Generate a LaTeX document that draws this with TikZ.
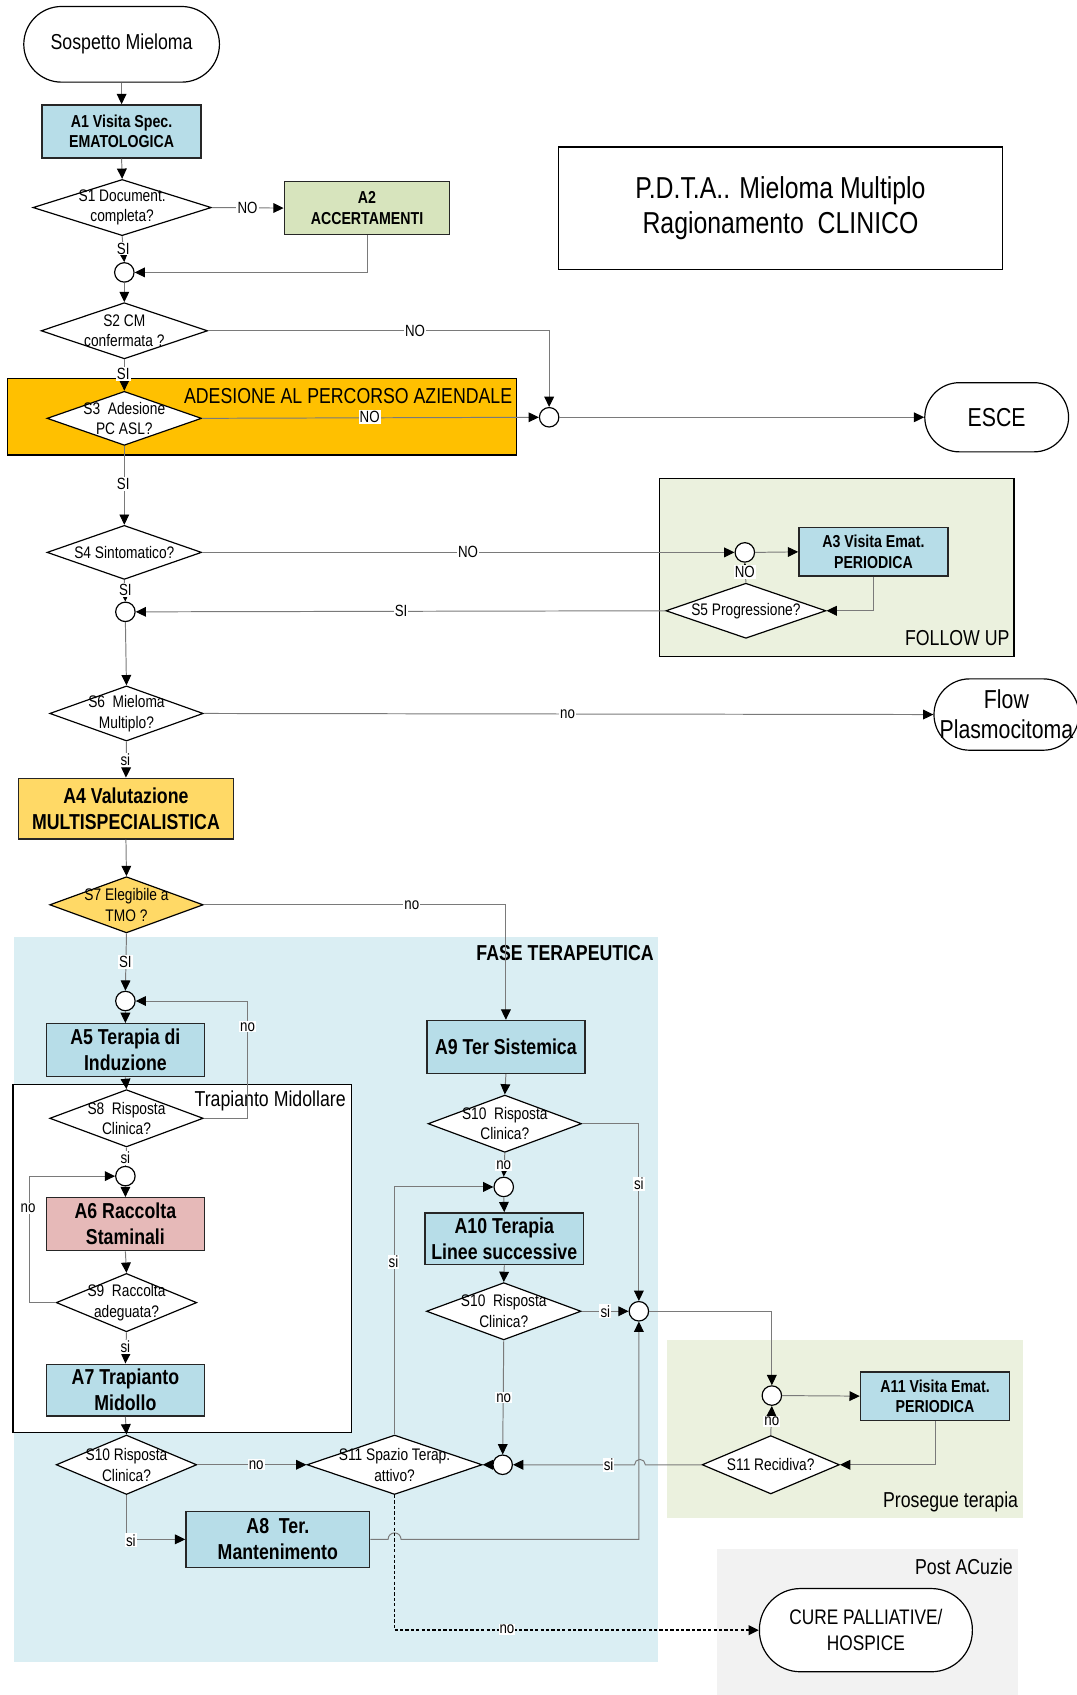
\documentclass[tikz,border=0pt]{standalone}
\usepackage{fontspec}
\setmainfont{Liberation Sans}[FakeStretch=0.82]
\usetikzlibrary{arrows.meta,shapes.geometric,calc}
\definecolor{bxblue}{HTML}{B7DDE8}
\definecolor{bxgreen}{HTML}{D7E4BD}
\definecolor{bxorange}{HTML}{FFC000}
\definecolor{bxyellow}{HTML}{FFD966}
\definecolor{bxpink}{HTML}{E6B9B8}
\definecolor{bgblue}{HTML}{DAEEF3}
\definecolor{bggreen}{HTML}{EBF1DE}
\definecolor{bggrey}{HTML}{F2F2F2}
\definecolor{ln}{HTML}{7A7A7A}
\tikzset{
  proc/.style={rectangle, draw=black!85, line width=1.3pt, fill=bxblue, inner sep=0pt, align=center, font=\bfseries\fontsize{20}{24}\selectfont},
  sproc/.style={proc, font=\bfseries\fontsize{16}{19}\selectfont},
  dec/.style={diamond, draw=black, line width=1.1pt, fill=white, inner sep=0pt},
  dtxt/.style={align=center, inner sep=0pt, font=\fontsize{15.5}{19}\selectfont},
  term/.style={rectangle, draw=black, line width=1.1pt, fill=white, align=center, inner sep=0pt},
  junc/.style={circle, draw=black, line width=1.1pt, fill=white, minimum size=18pt, inner sep=0pt},
  conn/.style={draw=ln, line width=0.9pt, -{Triangle[length=9.5pt,width=9pt,color=black]}},
  dotconn/.style={draw=black, line width=1.5pt, dash pattern=on 3pt off 2pt, -{Triangle[length=9.5pt,width=9pt,color=black]}},
  lbl/.style={fill=white, inner sep=1pt, font=\fontsize{15}{17}\selectfont},
  bigtxt/.style={inner sep=0pt, font=\fontsize{20}{24}\selectfont},
}
\begin{document}
\begin{tikzpicture}[x=1pt,y=-1pt]
\useasboundingbox (0,0) rectangle (996,1568);
% ---------- backgrounds ----------
\node[draw=black, line width=1.1pt, fill=white, minimum width=410pt, minimum height=113pt, inner sep=0pt, align=center, font=\fontsize{28}{33}\selectfont] (title) at (722,192.5) {P.D.T.A.. Mieloma Multiplo\\Ragionamento\ \ CLINICO};
\path[draw=black, line width=1.3pt, fill=bxorange] (7,350) rectangle (478,421);
\node[bigtxt, anchor=east] (adesione) at (474,366) {ADESIONE AL PERCORSO AZIENDALE};
\path[draw=black, line width=1.1pt, fill=bggreen] (610,443) rectangle (938,607);
\node[bigtxt, anchor=east] (followup) at (934,590) {FOLLOW UP};
\path[fill=bgblue] (13,867) rectangle (609,1537);
\node[bigtxt, anchor=east, font=\bfseries\fontsize{20}{24}\selectfont] (fase) at (605,882) {FASE TERAPEUTICA};
\path[draw=black, line width=1.3pt, fill=white] (12,1003) rectangle (325,1325);
\node[bigtxt, anchor=east] (trap) at (320,1018) {Trapianto Midollare};
\path[fill=bggreen] (617,1240) rectangle (946,1404);
\node[bigtxt, anchor=east] (prosegue) at (942,1389) {Prosegue terapia};
\path[fill=bggrey] (663,1433) rectangle (942,1568);
\node[bigtxt, anchor=east] (post) at (937,1449) {Post ACuzie};
% ---------- nodes ----------
\node[term, rounded corners=35pt, minimum width=181pt, minimum height=70pt, font=\fontsize{20}{24}\selectfont] (sosp) at (112.5,41) {Sospetto Mieloma};
\node[sproc, minimum width=147pt, minimum height=49pt] (a1) at (112.5,121.5) {A1 Visita Spec.\\EMATOLOGICA};
\node[dec, minimum width=165pt, minimum height=52pt] (s1) at (113,192) {};
\node[dtxt] (s1t) at (s1) {S1 Document.\\completa?};
\node[sproc, fill=bxgreen, minimum width=153pt, minimum height=49pt] (a2) at (339.5,192.5) {A2\\ACCERTAMENTI};
\node[junc] (c1) at (115,252) {};
\node[dec, minimum width=154pt, minimum height=52pt] (s2) at (115,306) {};
\node[dtxt] (s2t) at (s2) {S2 CM\\confermata ?};
\node[dec, minimum width=143pt, minimum height=50pt] (s3) at (115,387) {};
\node[dtxt] (s3t) at (s3) {S3\ \ Adesione\\PC ASL?};
\node[junc] (c2) at (508,386) {};
\node[term, rounded corners=32pt, minimum width=133pt, minimum height=64pt, font=\fontsize{24}{28}\selectfont] (esce) at (922,386) {ESCE};
\node[dec, minimum width=143pt, minimum height=50pt] (s4) at (115,511) {};
\node[dtxt] (s4t) at (s4) {S4 Sintomatico?};
\node[junc] (c3) at (689,511) {};
\node[sproc, minimum width=138pt, minimum height=45pt] (a3) at (808,510.5) {A3 Visita Emat.\\PERIODICA};
\node[dec, minimum width=148pt, minimum height=51pt] (s5) at (690,565) {};
\node[dtxt] (s5t) at (s5) {S5 Progressione?};
\node[junc] (c4) at (116,566) {};
\node[dec, minimum width=142pt, minimum height=51pt] (s6) at (117,660) {};
\node[dtxt] (s6t) at (s6) {S6\ \ Mieloma\\Multiplo?};
\node[term, rounded corners=33pt, minimum width=134pt, minimum height=66pt, font=\fontsize{24}{28}\selectfont] (flow) at (931,661) {Flow\\Plasmocitoma};
\node[proc, fill=bxyellow, minimum width=199pt, minimum height=56pt] (a4) at (116.5,748) {A4 Valutazione\\MULTISPECIALISTICA};
\node[dec, fill=bxyellow, minimum width=142pt, minimum height=52pt] (s7) at (117,837) {};
\node[dtxt] (s7t) at (s7) {S7 Elegibile a\\TMO ?};
\node[junc] (c5) at (116,926) {};
\node[proc, minimum width=146pt, minimum height=49pt] (a5) at (116,971.5) {A5 Terapia di\\Induzione};
\node[dec, minimum width=142pt, minimum height=53pt] (s8) at (117,1034.5) {};
\node[dtxt] (s8t) at (s8) {S8\ \ Risposta\\Clinica?};
\node[junc] (c6) at (116,1088) {};
\node[proc, fill=bxpink, minimum width=146pt, minimum height=49pt] (a6) at (116,1132.5) {A6 Raccolta\\Staminali};
\node[dec, minimum width=130pt, minimum height=54pt] (s9) at (117,1205) {};
\node[dtxt] (s9t) at (s9) {S9\ \ Raccolta\\adeguata?};
\node[proc, minimum width=146pt, minimum height=48pt] (a7) at (116,1286) {A7 Trapianto\\Midollo};
\node[dec, minimum width=130pt, minimum height=55pt] (s10c) at (117,1355) {};
\node[dtxt] (s10ct) at (s10c) {S10 Risposta\\Clinica?};
\node[dec, minimum width=162pt, minimum height=55pt] (s11) at (365,1355) {};
\node[dtxt] (s11t) at (s11) {S11 Spazio Terap.\\attivo?};
\node[junc] (c7) at (465,1355) {};
\node[dec, minimum width=127pt, minimum height=54pt] (s11r) at (713,1355) {};
\node[dtxt] (s11rt) at (s11r) {S11 Recidiva?};
\node[proc, minimum width=170pt, minimum height=52pt] (a8) at (257,1424) {A8\ \ Ter.\\Mantenimento};
\node[term, rounded corners=38pt, minimum width=197pt, minimum height=77pt, font=\fontsize{19.5}{24}\selectfont] (cure) at (801,1508) {CURE PALLIATIVE/\\HOSPICE};
\node[proc, minimum width=146pt, minimum height=49pt] (a9) at (468,968.5) {A9 Ter Sistemica};
\node[dec, minimum width=142pt, minimum height=53pt] (s10a) at (467,1039.5) {};
\node[dtxt] (s10at) at (s10a) {S10\ \ Risposta\\Clinica?};
\node[junc] (c8) at (466,1098) {};
\node[proc, minimum width=147pt, minimum height=48pt] (a10) at (466.5,1146) {A10 Terapia\\Linee successive};
\node[dec, minimum width=143pt, minimum height=53pt] (s10b) at (466,1213) {};
\node[dtxt] (s10bt) at (s10b) {S10\ \ Risposta\\Clinica?};
\node[junc] (c9) at (591,1213) {};
\node[junc] (c10) at (714,1291) {};
\node[sproc, minimum width=138pt, minimum height=45pt] (a11) at (865,1291.5) {A11 Visita Emat.\\PERIODICA};
% ---------- connectors ----------
\draw[conn] (sosp.south) -- (a1.north);
\draw[conn] (a1.south) -- (s1.north);
\draw[conn] (s1.east) -- (a2.west);
\draw[conn] (s1.south) -- (c1.north);
\draw[conn] (a2.south) |- (c1.east);
\draw[conn] (c1.south) -- (s2.north);
\draw[conn] (s2.east) -| (c2.north);
\draw[conn] (s2.south) -- (s3.north);
\draw[conn] (s3.east) -- (c2.west);
\draw[conn] (c2.east) -- (esce.west);
\draw[conn] (s3.south) -- (s4.north);
\draw[conn] (s4.east) -- (c3.west);
\draw[conn] (c3.east) -- (a3.west);
\draw[conn] (a3.south) |- (s5.east);
\draw[conn] (s5.north) -- (c3.south);
\draw[conn] (s5.west) -- (c4.east);
\draw[conn] (s4.south) -- (c4.north);
\draw[conn] (c4.south) -- (s6.north);
\draw[conn] (s6.east) -- (flow.west);
\draw[conn] (s6.south) -- (a4.north);
\draw[conn] (a4.south) -- (s7.north);
\draw[conn] (s7.east) -| (a9.north);
\draw[conn] (s7.south) -- (c5.north);
\draw[conn] (c5.south) -- (a5.north);
\draw[conn] (a5.south) -- (s8.north);
\draw[conn] (s8.east) -- (229,1034.5) |- (c5.east);
\draw[conn] (s8.south) -- (c6.north);
\draw[conn] (c6.south) -- (a6.north);
\draw[conn] (a6.south) -- (s9.north);
\draw[conn] (s9.west) -- (27,1205) |- (c6.west);
\draw[conn] (s9.south) -- (a7.north);
\draw[conn] (a7.south) -- (s10c.north);
\draw[conn] (s10c.east) -- (s11.west);
\draw[conn] (s10c.south) |- (a8.west);
\draw[conn] (a8.east) -- (359,1424) arc[start angle=180, end angle=360, radius=6] -- (c9.south |- a8.east) -- (c9.south);
\draw[conn] (s11.north) |- (c8.west);
\draw[dotconn] (s11.south) |- (cure.west);
\draw[conn] (a9.south) -- (s10a.north);
\draw[conn] (s10a.south) -- (c8.north);
\draw[conn] (c8.south) -- (a10.north);
\draw[conn] (a10.south) -- (s10b.north);
\draw[conn] (s10a.east) -| (c9.north);
\draw[conn] (s10b.east) -- (c9.west);
\draw[conn] (s10b.south) -- (c7.north);
\draw[conn] (s11r.west) -- (597,1355) arc[start angle=0, end angle=-180, radius=5] -- (c7.east);
\draw[conn] (c7.west) -- (s11.east);
\draw[conn] (c9.east) -| (c10.north);
\draw[conn] (c10.east) -- (a11.west);
\draw[conn] (a11.south) |- (s11r.east);
\draw[conn] (s11r.north) -- (c10.south);
% ---------- labels ----------
\node[lbl] (l1) at (229,192) {NO};
\node[lbl] (l2) at (114,230) {SI};
\node[lbl] (l3) at (384,306) {NO};
\node[lbl] (l4) at (114,346) {SI};
\node[lbl] (l5) at (342,386) {NO};
\node[lbl] (l6) at (114,448) {SI};
\node[lbl] (l7) at (433,511) {NO};
\node[lbl] (l8) at (689,529) {NO};
\node[lbl] (l9) at (371,565) {SI};
\node[lbl] (l10) at (116,546) {SI};
\node[lbl] (l11) at (525,661) {no};
\node[lbl] (l12) at (116,703) {si};
\node[lbl] (l13) at (381,837) {no};
\node[lbl] (l14) at (116,890) {SI};
\node[lbl] (l15) at (229,950) {no};
\node[lbl] (l16) at (116,1071) {si};
\node[lbl] (l17) at (26,1118) {no};
\node[lbl] (l18) at (116,1246) {si};
\node[lbl] (l19) at (237,1355) {no};
\node[lbl] (l20) at (121,1425) {si};
\node[lbl] (l21) at (364,1167) {si};
\node[lbl] (l22) at (469,1507) {no};
\node[lbl] (l23) at (466,1078) {no};
\node[lbl] (l24) at (591,1095) {si};
\node[lbl] (l25) at (560,1213) {si};
\node[lbl] (l26) at (466,1293) {no};
\node[lbl] (l27) at (563,1355) {si};
\node[lbl] (l28) at (714,1315) {no};
\end{tikzpicture}
\end{document}
